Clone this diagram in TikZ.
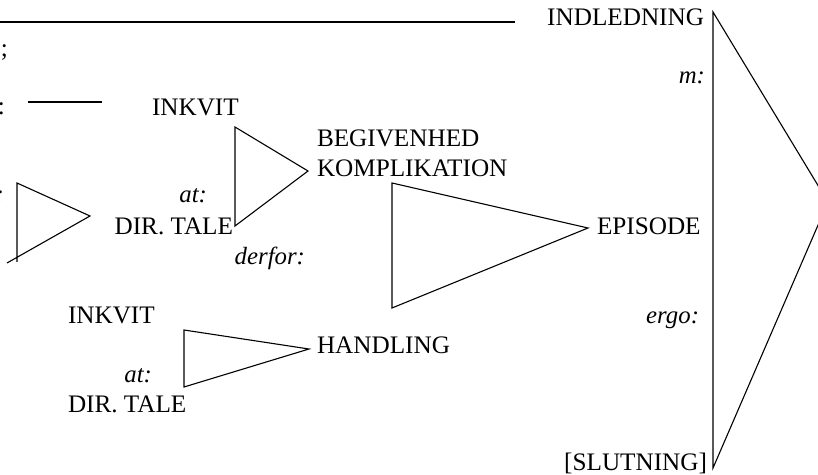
\documentclass[tikz,border=0pt]{standalone}
\usepackage{fontspec}
\setmainfont{Liberation Serif}
\usetikzlibrary{positioning}

\tikzset{
  word/.style={inner sep=0pt,outer sep=0pt,font=\fontsize{12.6}{14}\selectfont},
  conj/.style={word,font=\fontsize{12.4}{14}\selectfont\itshape},
  wedge/.style={line width=.55pt,line join=miter},
}

\begin{document}
\begin{tikzpicture}[x=.5pt,y=-.5pt]
\useasboundingbox (0,0) rectangle (818,475);
% words
\foreach \t/\n/\x/\y/\a in {
  INDLEDNING/indl/704/26/base east,
  EPISODE/epi/597/235/base west,
  {[SLUTNING]}/slut/707/470/base east,
  BEGIVENHED/begiv/317/147/base west,
  KOMPLIKATION/kompl/317/177/base west,
  HANDLING/hand/317/353/base west,
  INKVIT/inkA/152/116/base west,
  DIR. TALE/dirA/233/235/base east,
  INKVIT/inkB/68/323/base west,
  DIR. TALE/dirB/68/412/base west,
  {;}/semi/8/57/base east,
  {:}/colA/5/115/base east}
\node[word,anchor=\a] (\n) at (\x,\y) {\t};
% connectives
\foreach \t/\n/\x/\y in {
  m:/mm/705/84,
  ergo:/ergo/699/323,
  at:/atA/207/203,
  derfor:/derf/305/265,
  at:/atB/152/382,
  {:}/colB/4/203}
\node[conj,anchor=base east] (\n) at (\x,\y) {\t};
% lines
\coordinate (topL) at (0,22);
\coordinate (topR) at (515,22);
\draw[wedge] (topL) -- (topR);
\coordinate (dashL) at (28,102);
\coordinate (dashR) at (102,102);
\draw[wedge] (dashL) -- (dashR);
% wedges
\foreach \x/\t/\b/\px/\py in {
  235/127/226/308/171,
  392/183/308/588/228,
  184/330/387/309/349,
  713/12/468/828/202}
\draw[wedge] (\x,\t) -- (\px,\py) -- (\x,\b) -- cycle;
\draw[wedge] (17,262) -- (17,183) -- (90,216) -- (7,263);
\end{tikzpicture}
\end{document}
